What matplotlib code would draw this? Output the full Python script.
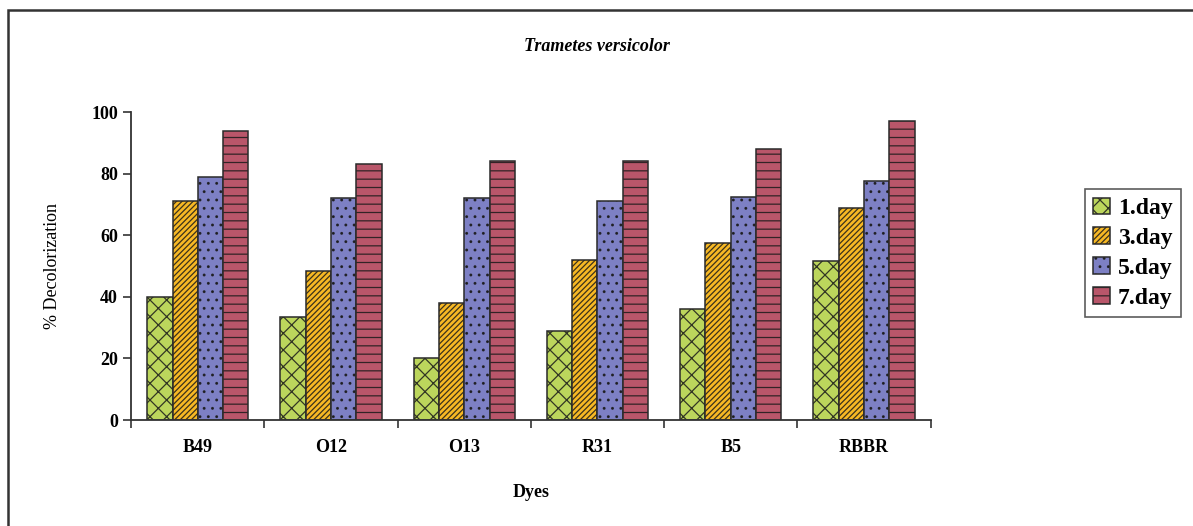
import matplotlib.pyplot as plt
import numpy as np
from matplotlib.patches import Rectangle

plt.rcParams['font.family'] = ['Liberation Serif', 'DejaVu Serif']
plt.rcParams['hatch.linewidth'] = 0.9

dyes = ['B49', 'O12', 'O13', 'R31', 'B5', 'RBBR']
days = ['1.day', '3.day', '5.day', '7.day']
day1 = [40, 33.5, 20, 29, 36, 51.5]
day3 = [71, 48.5, 38, 52, 57.5, 69]
day5 = [79, 72, 72, 71, 72.5, 77.5]
day7 = [94, 83, 84, 84, 88, 97]

colores = ['#bcd65c', '#f7b824', '#7d80c4', '#b9566a']
tramas = ['xx', '//////', '..', '--']

fig = plt.figure(figsize=(11.93, 5.26), dpi=100)
ax = fig.add_axes([0.110, 0.2015, 0.670, 0.5855])

x = np.arange(len(dyes))
ancho = 0.19
series = [day1, day3, day5, day7]
for i, vals in enumerate(series):
    pos = x + (i - 1.5) * ancho
    barras = ax.bar(pos, vals, ancho, color=colores[i], edgecolor='#2a2a2a',
                    linewidth=1.1, label=days[i])
    for b in barras:
        b.set_hatch(tramas[i])
        b._hatch_color = (0.1, 0.1, 0.1, 0.85)

ax.set_xlim(-0.5, len(dyes) - 0.5)
ax.set_ylim(0, 100)
ax.set_yticks([0, 20, 40, 60, 80, 100])
ax.set_xticks(x)
ax.set_xticklabels(dyes, fontweight='bold', fontsize=13)
for t in ax.get_yticklabels():
    t.set_fontweight('bold')
    t.set_fontsize(13)
ax.tick_params(axis='x', length=0, pad=14)
ax.tick_params(axis='y', length=6, direction='out', width=1.2, color='#333333')
# marcas entre grupos
ax.set_xticks(np.arange(-0.5, len(dyes)), minor=True)
ax.tick_params(axis='x', which='minor', length=6, width=1.2, color='#333333')

for lado in ['top', 'right']:
    ax.spines[lado].set_visible(False)
for lado in ['left', 'bottom']:
    ax.spines[lado].set_linewidth(1.3)
    ax.spines[lado].set_color('#333333')

ax.set_xlabel('Dyes', fontweight='bold', fontsize=13, labelpad=20)
ax.set_ylabel('% Decolorization', fontsize=13, labelpad=22)
fig.text(0.500, 0.912, 'Trametes versicolor', ha='center', va='center',
         fontsize=13, fontweight='bold', style='italic')

leg = fig.legend(loc='upper left', bbox_to_anchor=(0.9095, 0.640),
                 prop={'weight': 'bold', 'size': 17}, borderaxespad=0,
                 frameon=True, fancybox=False, edgecolor='#333333',
                 handlelength=0.7, handleheight=0.7, handletextpad=0.35,
                 labelspacing=0.35, borderpad=0.35)
leg.get_frame().set_linewidth(1.2)

# recuadro exterior
fig.patches.append(Rectangle((8 / 1193, -0.1), 1.2, 1.1 - 10 / 526,
                             transform=fig.transFigure, fill=False,
                             edgecolor='#333333', linewidth=1.8))

fig.savefig('out.png', dpi=100)
